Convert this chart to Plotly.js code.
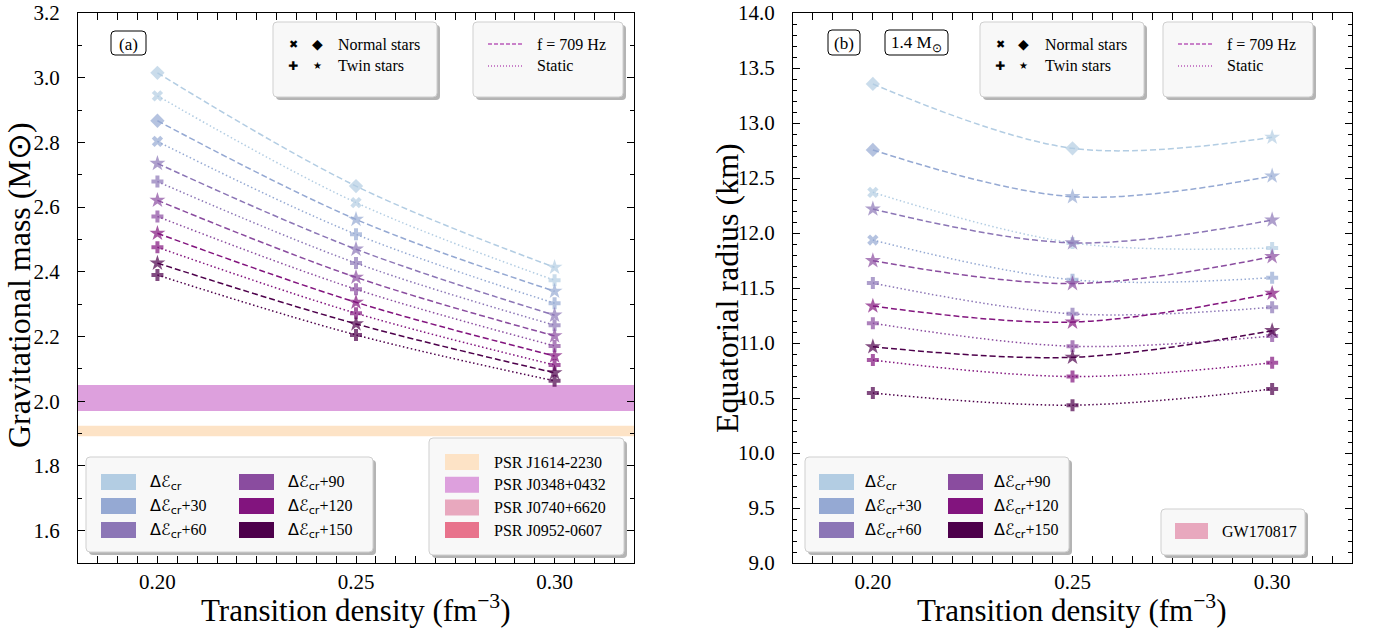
<!DOCTYPE html>
<html><head><meta charset="utf-8">
<script src="https://cdn.plot.ly/plotly-3.0.1.min.js"></script>
<style>body{margin:0;background:#fff}#c{width:1375px;height:635px}</style>
</head><body><div id="c"></div>
<script>
// ---------------- data ----------------
const densities = [0.20, 0.25, 0.30];
const shiftLabels = ['', '+30', '+60', '+90', '+120', '+150'];
const shiftColors = ['#b3cde3', '#95a9d3', '#8c76b6', '#8a4c9f', '#82147e', '#4d004b'];

// panel (a): gravitational mass (Msun), f = 709 Hz and static
const massRot = [
  [3.015, 2.665, 2.414],
  [2.867, 2.562, 2.340],
  [2.735, 2.470, 2.266],
  [2.621, 2.383, 2.202],
  [2.519, 2.306, 2.140],
  [2.427, 2.239, 2.088]
];
const massStatic = [
  [2.944, 2.614, 2.374],
  [2.803, 2.516, 2.303],
  [2.679, 2.427, 2.235],
  [2.571, 2.346, 2.171],
  [2.476, 2.272, 2.112],
  [2.390, 2.205, 2.063]
];
// N = normal star, T = twin star
const kindMassRot = [['N','N','T'],['N','T','T'],['T','T','T'],['T','T','T'],['T','T','T'],['T','T','T']];
const kindMassStatic = [['N','N','T'],['N','T','T'],['T','T','T'],['T','T','T'],['T','T','T'],['T','T','T']];

// panel (b): equatorial radius (km) of 1.4 Msun star
const radRot = [
  [13.355, 12.770, 12.870],
  [12.755, 12.330, 12.518],
  [12.218, 11.910, 12.118],
  [11.748, 11.540, 11.785],
  [11.336, 11.190, 11.452],
  [10.966, 10.870, 11.112]
];
const radStatic = [
  [12.370, 11.910, 11.864],
  [11.936, 11.575, 11.594],
  [11.545, 11.265, 11.325],
  [11.180, 10.970, 11.064],
  [10.845, 10.695, 10.821],
  [10.545, 10.435, 10.582]
];
const kindRadRot = [['N','N','T'],['N','T','T'],['T','T','T'],['T','T','T'],['T','T','T'],['T','T','T']];
const kindRadStatic = [['N','T','T'],['N','T','T'],['T','T','T'],['T','T','T'],['T','T','T'],['T','T','T']];

// pulsar mass constraints
const psrNames = ['PSR J1614-2230', 'PSR J0348+0432', 'PSR J0740+6620', 'PSR J0952-0607'];
const psrMass = [1.908, 2.01, 2.08, 2.35];
const psrErr = [0.016, 0.04, 0.07, 0.17];
const psrShown = [true, true, false, false];
const psrColors = ['#fde3c6', '#dda0dd', '#e8a8be', '#e8738c'];
const gwName = 'GW170817';
const gwColor = '#e8a8be';

// ---------------- layout helpers ----------------
const W = 1375, H = 635;
const PX = x => x / W, PY = y => 1 - y / H;
const SERIF = 'Liberation Serif, Times New Roman, serif';

const traces = [];
function addSeries(xa, ya, vals, kinds, color, rot) {
  const sym = kinds.map(k => rot ? (k === 'N' ? 'diamond' : 'star') : (k === 'N' ? 'x' : 'cross'));
  const size = kinds.map(k => rot ? (k === 'N' ? 11 : 12) : 10);
  traces.push({
    x: densities, y: vals, xaxis: xa, yaxis: ya, type: 'scatter', mode: 'lines+markers',
    line: {color: color, width: 1.5, shape: 'spline', dash: rot ? '6px,3px' : '1.5px,2.5px'},
    marker: {symbol: sym, size: size, color: color, line: {width: 0}},
    showlegend: false, hoverinfo: 'x+y'
  });
}
// static curves on the label axes (y, y2); rotating curves on the framed twin axes (y3, y4)
for (let i = 0; i < 6; i++) {
  addSeries('x', 'y', massStatic[i], kindMassStatic[i], shiftColors[i], false);
  addSeries('x2', 'y2', radStatic[i], kindRadStatic[i], shiftColors[i], false);
}
for (let i = 0; i < 6; i++) {
  addSeries('x', 'y3', massRot[i], kindMassRot[i], shiftColors[i], true);
  addSeries('x2', 'y4', radRot[i], kindRadRot[i], shiftColors[i], true);
}

const shapes = [];
const ann = [];
// pulsar bands
psrNames.forEach((n, i) => {
  if (!psrShown[i]) return;
  shapes.push({type: 'rect', xref: 'x domain', yref: 'y', x0: 0, x1: 1,
    y0: psrMass[i] - psrErr[i], y1: psrMass[i] + psrErr[i],
    fillcolor: psrColors[i], line: {width: 0}, layer: 'below'});
});

function rpath(x0, y0, x1, y1, r) {
  const a = (x, y) => PX(x) + ',' + PY(y);
  return 'M' + a(x0 + r, y0) + ' L' + a(x1 - r, y0) + ' Q' + a(x1, y0) + ' ' + a(x1, y0 + r) +
    ' L' + a(x1, y1 - r) + ' Q' + a(x1, y1) + ' ' + a(x1 - r, y1) +
    ' L' + a(x0 + r, y1) + ' Q' + a(x0, y1) + ' ' + a(x0, y1 - r) +
    ' L' + a(x0, y0 + r) + ' Q' + a(x0, y0) + ' ' + a(x0 + r, y0) + ' Z';
}
function legBox(x0, y0, x1, y1) {
  shapes.push({type: 'path', xref: 'paper', yref: 'paper', path: rpath(x0 + 3, y0 + 3, x1 + 3, y1 + 3, 4),
    fillcolor: '#b4b4b4', line: {width: 0}, layer: 'above'});
  shapes.push({type: 'path', xref: 'paper', yref: 'paper', path: rpath(x0, y0, x1, y1, 4),
    fillcolor: '#f8f8f8', line: {color: '#cfcfcf', width: 1}, layer: 'above'});
}
function labelBox(x0, y0, x1, y1, text) {
  shapes.push({type: 'path', xref: 'paper', yref: 'paper', path: rpath(x0, y0, x1, y1, 4),
    fillcolor: '#ffffff', line: {color: '#000', width: 1}, layer: 'above'});
  ann.push({xref: 'paper', yref: 'paper', x: PX((x0 + x1) / 2), y: PY((y0 + y1) / 2 + 1),
    text: text, showarrow: false, xanchor: 'center', yanchor: 'middle',
    font: {family: SERIF, size: 17, color: '#000'}});
}
function txt(x, y, text, size) {
  ann.push({xref: 'paper', yref: 'paper', x: PX(x), y: PY(y), text: text, showarrow: false,
    xanchor: 'left', yanchor: 'middle', font: {family: SERIF, size: size || 16, color: '#000'}});
}
function glyph(x, y, g, size) {
  ann.push({xref: 'paper', yref: 'paper', x: PX(x), y: PY(y), text: g, showarrow: false,
    xanchor: 'center', yanchor: 'middle', font: {family: 'DejaVu Sans', size: size, color: '#000'}});
}
function patch(x0, x1, y, color) {
  shapes.push({type: 'rect', xref: 'paper', yref: 'paper', x0: PX(x0), x1: PX(x1), y0: PY(y - 8), y1: PY(y + 8),
    fillcolor: color, line: {width: 0}, layer: 'above'});
}
function lineSample(x0, x1, y, dash) {
  shapes.push({type: 'line', xref: 'paper', yref: 'paper', x0: PX(x0), x1: PX(x1), y0: PY(y), y1: PY(y),
    line: {color: '#9a0a9a', width: 1, dash: dash}, layer: 'above'});
}
const shiftHtml = s => '<span style="font-family:DejaVu Sans">Δℰ<sub>cr</sub></span>' + s;

function markerLegend(x0) {
  legBox(x0, 22, x0 + 164, 97);
  glyph(x0 + 20, 44, '✖', 11); glyph(x0 + 44, 44, '◆', 14); txt(x0 + 63, 44, 'Normal stars');
  glyph(x0 + 20, 66, '✚', 12); glyph(x0 + 44, 66, '★', 10); txt(x0 + 63, 66, 'Twin stars');
}
function lineLegend(x0) {
  legBox(x0, 22, x0 + 150, 97);
  lineSample(x0 + 15, x0 + 49, 44, '4px,2px'); txt(x0 + 62, 44, 'f = 709 Hz');
  lineSample(x0 + 15, x0 + 49, 66, '1px,2px'); txt(x0 + 62, 66, 'Static');
}
function colorLegend(x0, x1, pc1, tc1, pc2, tc2) {
  legBox(x0, 457, x1, 552);
  const rows = [482, 506, 530];
  for (let i = 0; i < 6; i++) {
    const col = i < 3 ? 0 : 1, r = rows[i % 3];
    patch(col ? pc2 : pc1, (col ? pc2 : pc1) + 35, r, shiftColors[i]);
    txt(col ? tc2 : tc1, r, shiftHtml(shiftLabels[i]), 16);
  }
}
function axisTitle(x, y, text, angle, size) {
  ann.push({xref: 'paper', yref: 'paper', x: PX(x), y: PY(y), text: text, showarrow: false,
    xanchor: 'center', yanchor: 'middle', textangle: angle || 0,
    font: {family: SERIF, size: size || 31, color: '#000'}});
}

// panel (a) decorations
labelBox(111, 31, 146, 55, '(a)');
markerLegend(273);
lineLegend(473);
colorLegend(86, 373, 101, 148, 239, 286);
legBox(429, 438, 624, 555);
psrNames.forEach((n, i) => { const y = 462 + i * 22.7; patch(445, 479, y, psrColors[i]); txt(492, y, n); });
axisTitle(356, 608, 'Transition density (fm<sup>−3</sup>)');
axisTitle(19, 285, 'Gravitational mass (M⊙)', -90, 32);

// panel (b) decorations
labelBox(828, 30, 860, 55, '(b)');
labelBox(885, 30, 948, 55, '1.4 M<sub>⊙</sub>');
markerLegend(980);
lineLegend(1163);
colorLegend(805, 1069, 819, 863, 948, 992);
legBox(1161, 509, 1305, 555);
patch(1175, 1208, 531, gwColor); txt(1220, 531, gwName);
axisTitle(1072, 608, 'Transition density (fm<sup>−3</sup>)');
axisTitle(727, 288, 'Equatorial radius (km)', -90, 32);

const axFont = {family: SERIF, size: 21, color: '#000'};
const common = {
  showline: true, linecolor: '#000', linewidth: 1, mirror: 'allticks', ticks: 'inside',
  ticklen: 7, tickwidth: 1, tickcolor: '#000', showgrid: false, zeroline: false, tickfont: axFont
};
const xcommon = Object.assign({}, common, {
  range: [0.18, 0.32], tickvals: densities, ticktext: densities.map(d => d.toFixed(2)),
  minor: {ticks: 'inside', ticklen: 4, dtick: 0.005, tick0: 0, tickcolor: '#000', showgrid: false}
});
const yDomain = [72 / H, 1 - 13 / H];
// label-carrying y axes (transparent outside ticks push the labels off the frame)
const yLabels = {domain: yDomain, tickformat: '.1f', tick0: 0, showline: false, showgrid: false,
  zeroline: false, ticks: 'outside', ticklen: 13, tickcolor: 'rgba(0,0,0,0)', tickfont: axFont};
// frame / tick y axes
const yFrame = Object.assign({}, common, {tick0: 0, showticklabels: false});
const mRange = [1.5, 3.2], rRange = [9, 14];

const layout = {
  width: W, height: H, margin: {l: 0, r: 0, t: 0, b: 0},
  paper_bgcolor: '#fff', plot_bgcolor: '#fff', showlegend: false,
  xaxis: Object.assign({}, xcommon, {domain: [78 / W, 634 / W], anchor: 'y'}),
  xaxis2: Object.assign({}, xcommon, {domain: [793 / W, 1352 / W], anchor: 'y2'}),
  yaxis: Object.assign({}, yLabels, {anchor: 'x', range: mRange, dtick: 0.2}),
  yaxis2: Object.assign({}, yLabels, {anchor: 'x2', range: rRange, dtick: 0.5}),
  yaxis3: Object.assign({}, yFrame, {anchor: 'x', overlaying: 'y', range: mRange, dtick: 0.2,
    minor: {ticks: 'inside', ticklen: 4, dtick: 0.1, tick0: 0, tickcolor: '#000', showgrid: false}}),
  yaxis4: Object.assign({}, yFrame, {anchor: 'x2', overlaying: 'y2', range: rRange, dtick: 0.5,
    minor: {ticks: 'inside', ticklen: 4, dtick: 0.1, tick0: 0, tickcolor: '#000', showgrid: false}}),
  shapes: shapes, annotations: ann
};
Plotly.newPlot('c', traces, layout, {displayModeBar: false, staticPlot: true});
</script></body></html>
